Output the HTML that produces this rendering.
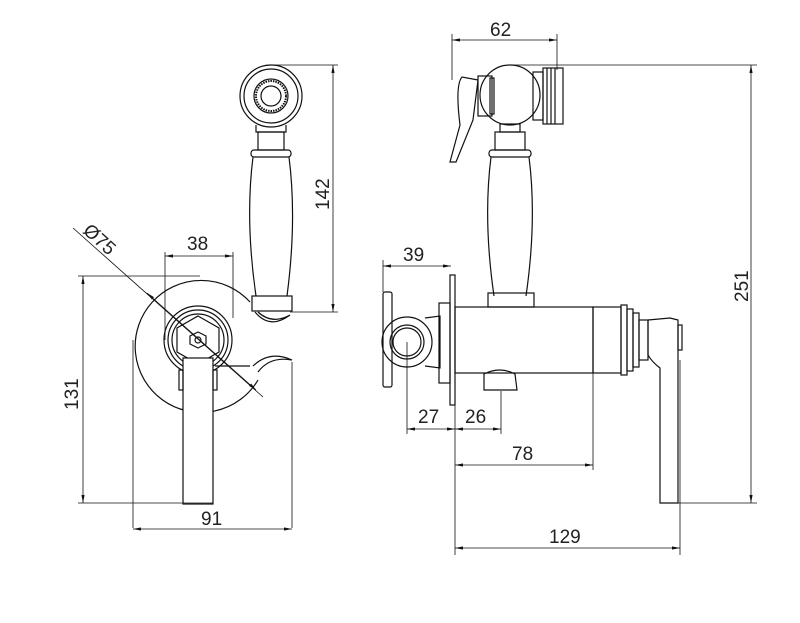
<!DOCTYPE html>
<html><head><style>body{margin:0;background:#fff}svg{display:block}text{font-family:"Liberation Sans",sans-serif;font-size:19px;fill:#222;stroke:none;font-weight:normal}</style></head><body>
<svg width="800" height="623" viewBox="0 0 800 623" xmlns="http://www.w3.org/2000/svg" fill="none" stroke="#111" stroke-width="1.2">
<defs><marker id="a" viewBox="0 0 10 4" refX="10" refY="2" markerWidth="10" markerHeight="4" orient="auto-start-reverse"><path d="M0,0L10,2L0,4z" fill="#111" stroke="none"/></marker></defs>
<path d="M250,302 A66,66 0 1 0 258,380"/>
<path d="M133,340 L133,528 M292,362 L292,528" stroke-width="0.8"/>
<circle cx="198" cy="340" r="34"/><circle cx="198" cy="340" r="30"/><circle cx="198" cy="340" r="26"/>
<polygon points="198,316 219,328 219,352 198,364 177,352 177,328"/>
<polygon points="198,332 206,336 206,344 198,348 190,344 190,336"/><circle cx="198" cy="340" r="3"/>
<rect x="183" y="358" width="30" height="146" fill="#fff"/>
<rect x="179" y="370" width="4" height="20"/><rect x="213" y="370" width="4" height="20"/>
<path d="M215,366 L250,366 M253,366 Q270,350 292,360 Q270,356 258,372"/>
<circle cx="271" cy="96" r="31"/><circle cx="271" cy="96" r="27"/><circle cx="271" cy="96" r="17"/><circle cx="271" cy="96" r="10"/>
<circle cx="271" cy="96" r="15" stroke-dasharray="1.5 1" stroke-width="2"/>
<path d="M256,125 L256,132 L286,132 L286,125"/><rect x="258" y="132" width="26" height="18"/>
<rect x="251" y="150" width="40" height="7" rx="3"/>
<path d="M253,157 Q245,220 256,296 M289,157 Q297,220 287,296"/>
<rect x="252" y="296" width="40" height="15"/>
<path d="M255,312 Q270,330 290,315 Q272,325 258,312"/>
<line x1="165" y1="256" x2="233" y2="256" marker-start="url(#a)" marker-end="url(#a)" stroke-width="0.8"/>
<path d="M165,252 L165,340 M233,252 L233,318" stroke-width="0.8"/>
<text x="187" y="250">38</text>
<line x1="83" y1="276" x2="83" y2="503" marker-start="url(#a)" marker-end="url(#a)" stroke-width="0.8"/>
<path d="M78,276 L200,276 M78,503 L213,503 M290,312 L338,312 M272,65 L338,65" stroke-width="0.8"/>
<text transform="translate(78,410) rotate(-90)">131</text>
<line x1="133" y1="529" x2="292" y2="529" marker-start="url(#a)" marker-end="url(#a)" stroke-width="0.8"/>
<text x="201" y="525">91</text>
<line x1="333" y1="65" x2="333" y2="312" marker-start="url(#a)" marker-end="url(#a)" stroke-width="0.8"/>
<text transform="translate(329,210) rotate(-90)">142</text>
<line x1="73" y1="228" x2="263" y2="397" stroke-width="0.8"/>
<line x1="147" y1="293" x2="256" y2="390" marker-start="url(#a)" marker-end="url(#a)" stroke-width="0.8"/>
<text transform="translate(82,232) rotate(42)">Ø75</text>
<rect x="383" y="292" width="9" height="95" rx="2"/>
<circle cx="407" cy="342" r="25"/><circle cx="407" cy="342" r="17"/><circle cx="407" cy="342" r="14"/>
<path d="M425,318 L440,316 L440,368 L425,366"/>
<rect x="439" y="303" width="11" height="80"/>
<rect x="450" y="275" width="5" height="130"/>
<rect x="455" y="307" width="138" height="66"/>
<path d="M484,374 Q500,366 515,374 L517,390 L484,390 Z"/>
<rect x="593" y="307" width="28" height="66"/>
<rect x="621" y="305" width="6" height="70"/><rect x="627" y="309" width="6" height="62"/><rect x="633" y="313" width="6" height="54"/>
<rect x="639" y="320" width="9" height="40"/>
<path d="M648,320 L648,355 Q652,362 660,368 L660,503 L678,503 L678,320 L670,318 L648,320"/>
<rect x="678" y="325" width="4" height="25"/>
<circle cx="510" cy="95" r="30"/>
<rect x="478" y="76" width="14" height="40"/><rect x="490" y="78" width="4" height="36"/>
<path d="M478,80 L462,77 Q455,85 460,125 L450,162 L456,162 L473,120 Z"/>
<rect x="533" y="72" width="10" height="48"/><rect x="543" y="68" width="20" height="56"/>
<path d="M547,68 L547,124 M551,68 L551,124 M555,68 L555,124"/>
<rect x="500" y="124" width="20" height="8"/><rect x="495" y="132" width="30" height="18"/>
<rect x="489" y="150" width="42" height="7" rx="3"/>
<path d="M491,157 Q483,220 494,296 M529,157 Q537,220 526,296"/>
<rect x="488" y="293" width="46" height="14"/>
<line x1="452" y1="40" x2="557" y2="40" marker-start="url(#a)" marker-end="url(#a)" stroke-width="0.8"/>
<path d="M452,34 L452,80 M557,34 L557,70 M512,65 L757,65 M678,503 L757,503" stroke-width="0.8"/>
<text x="490" y="36">62</text>
<line x1="751" y1="65" x2="751" y2="503" marker-start="url(#a)" marker-end="url(#a)" stroke-width="0.8"/>
<text transform="translate(748,302) rotate(-90)">251</text>
<line x1="383" y1="266" x2="451" y2="266" marker-start="url(#a)" marker-end="url(#a)" stroke-width="0.8"/>
<path d="M383,260 L383,292" stroke-width="0.8"/>
<text x="403" y="261">39</text>
<path d="M407,342 L407,434 M455,405 L455,555 M501,391 L501,434 M593,373 L593,470 M680,360 L680,555" stroke-width="0.8"/>
<line x1="407" y1="429" x2="455" y2="429" marker-start="url(#a)" marker-end="url(#a)" stroke-width="0.8"/>
<line x1="455" y1="429" x2="501" y2="429" marker-start="url(#a)" marker-end="url(#a)" stroke-width="0.8"/>
<text x="418" y="423">27</text><text x="465" y="423">26</text>
<line x1="455" y1="465" x2="593" y2="465" marker-start="url(#a)" marker-end="url(#a)" stroke-width="0.8"/>
<text x="512" y="460">78</text>
<line x1="455" y1="548" x2="680" y2="548" marker-start="url(#a)" marker-end="url(#a)" stroke-width="0.8"/>
<text x="549" y="543">129</text>
</svg>
</body></html>
